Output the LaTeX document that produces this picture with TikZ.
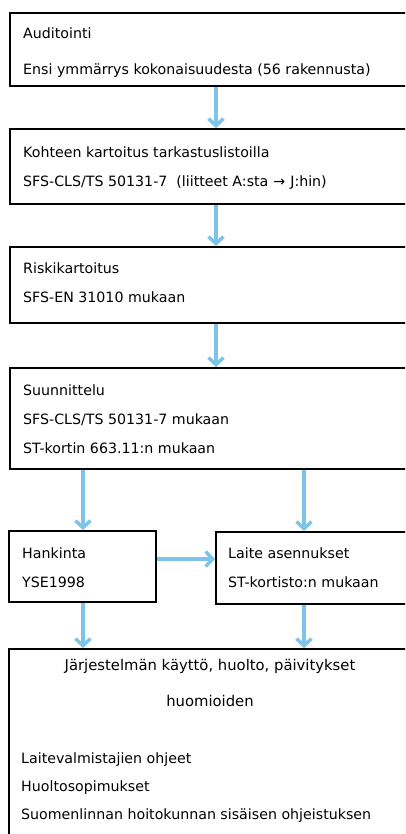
\documentclass[tikz,border=0pt]{standalone}
\usepackage{fontspec}
\setmainfont{DejaVu Sans}
\usetikzlibrary{arrows.meta}
\definecolor{flowblue}{RGB}{125,196,232}
\tikzset{
  stage/.style={draw=black, line width=1.8pt, fill=white, inner sep=0pt, anchor=north west},
  label/.style={anchor=base west, inner sep=0pt, font=\fontsize{14.2}{17}\selectfont},
  clabel/.style={anchor=base, inner sep=0pt, font=\fontsize{14.8}{17}\selectfont},
  flow/.style={draw=flowblue, line width=3.5pt, -{Straight Barb[length=7pt,width=15pt]}}
}
\begin{document}
\begin{tikzpicture}[x=1pt,y=-1pt]
\clip (0,0) rectangle (405,834);
\fill[white] (0,0) rectangle (405,834);

% process stages
\node[stage, minimum width=403pt, minimum height=73pt]  (b1) at (9,12)   {};
\node[stage, minimum width=403pt, minimum height=75pt]  (b2) at (9,128)  {};
\node[stage, minimum width=403pt, minimum height=76pt]  (b3) at (9,246)  {};
\node[stage, minimum width=403pt, minimum height=101pt] (b4) at (9,367)  {};
\node[stage, minimum width=147pt, minimum height=71pt]  (b5) at (8,530)  {};
\node[stage, minimum width=197pt, minimum height=72pt]  (b6) at (215,531) {};
\node[stage, minimum width=404pt, minimum height=200pt] (b7) at (8,648)  {};

% texts
\node[label] (t1a) at (23,39)  {Auditointi};
\node[label] (t1b) at (23,75)  {Ensi ymmärrys kokonaisuudesta (56 rakennusta)};
\node[label] (t2a) at (23,158) {Kohteen kartoitus tarkastuslistoilla};
\node[label] (t2b) at (23,187) {SFS-CLS/TS 50131-7\ \ (liitteet A:sta\hspace{5pt}→\hspace{5pt}J:hin)};
\node[label] (t3a) at (23,273) {Riskikartoitus};
\node[label] (t3b) at (23,302) {SFS-EN 31010 mukaan};
\node[label] (t4a) at (23,395) {Suunnittelu};
\node[label] (t4b) at (23,424) {SFS-CLS/TS 50131-7 mukaan};
\node[label] (t4c) at (23,453) {ST-kortin 663.11:n mukaan};
\node[label] (t5a) at (22,558) {Hankinta};
\node[label] (t5b) at (22,587) {YSE1998};
\node[label] (t6a) at (228,558) {Laite asennukset};
\node[label] (t6b) at (228,587) {ST-kortisto:n mukaan};
\node[clabel] (t7a) at (210,670) {Järjestelmän käyttö, huolto, päivitykset};
\node[clabel] (t7b) at (210,706) {huomioiden};
\node[label] (t7c) at (21,763) {Laitevalmistajien ohjeet};
\node[label] (t7d) at (21,791) {Huoltosopimukset};
\node[label] (t7e) at (21,819) {Suomenlinnan hoitokunnan sisäisen ohjeistuksen};

% connector columns
\coordinate (cmid) at (216,0);
\coordinate (cleft) at (83,0);
\coordinate (cright) at (304,0);
\coordinate (rowh) at (0,559);

\draw[flow] (cmid |- b1.south) -- (cmid |- b2.north);
\draw[flow] (cmid |- b2.south) -- (cmid |- b3.north);
\draw[flow] (cmid |- b3.south) -- (cmid |- b4.north);
\draw[flow] (cleft |- b4.south) -- (cleft |- b5.north);
\draw[flow] (cright |- b4.south) -- (cright |- b6.north);
\draw[flow] (b5.east |- rowh) -- (b6.west |- rowh);
\draw[flow] (cleft |- b5.south) -- (cleft |- b7.north);
\draw[flow] (cright |- b6.south) -- (cright |- b7.north);
\end{tikzpicture}
\end{document}
